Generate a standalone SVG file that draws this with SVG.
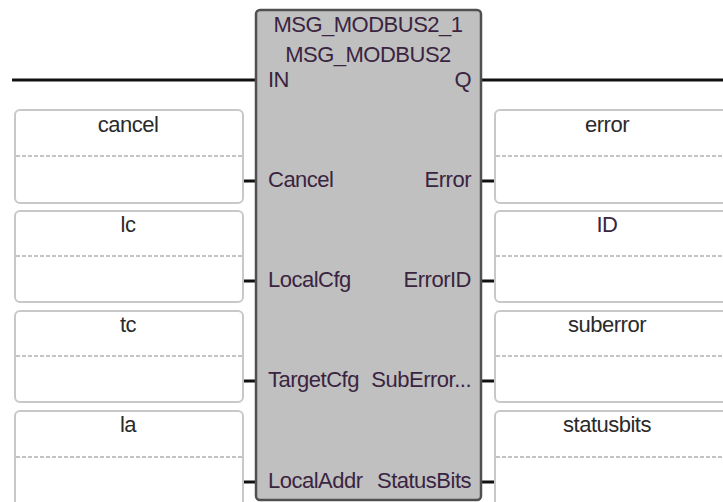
<svg xmlns="http://www.w3.org/2000/svg" width="723" height="502" viewBox="0 0 723 502">
<style>
text{font-family:"Liberation Sans",Arial,sans-serif;font-size:22px;letter-spacing:-0.5px;fill:#3a2440}
.box{fill:#fff;stroke:#c8c8c8;stroke-width:2}
.dash{stroke:#c4c4c4;stroke-width:2;stroke-dasharray:4,2}
.wire{stroke:#111;stroke-width:3;fill:none}
.pin{stroke:#111;stroke-width:3}
.c{text-anchor:middle}
.r{text-anchor:end}
.v{fill:#2a2a2a}
</style>
<rect width="723" height="502" fill="#fff"/>
<g id="connectors">
<line class="wire" x1="12" y1="80" x2="257" y2="80"/>
<line class="wire" x1="480" y1="80" x2="723" y2="80"/>
<line class="pin" x1="237" y1="181" x2="259" y2="181"/>
<line class="pin" x1="237" y1="281" x2="259" y2="281"/>
<line class="pin" x1="237" y1="381" x2="259" y2="381"/>
<line class="pin" x1="237" y1="482" x2="259" y2="482"/>
<line class="pin" x1="478" y1="181" x2="500" y2="181"/>
<line class="pin" x1="478" y1="281" x2="500" y2="281"/>
<line class="pin" x1="478" y1="381" x2="500" y2="381"/>
<line class="pin" x1="478" y1="482" x2="500" y2="482"/>
</g>
<g id="block">
<rect x="256" y="10" width="225" height="490" rx="4" fill="#c0c0c0" stroke="#505050" stroke-width="2.5"/>
<text class="c" x="368" y="32">MSG_MODBUS2_1</text>
<text class="c" x="368" y="62">MSG_MODBUS2</text>
<text x="268" y="87">IN</text>
<text class="r" x="471" y="87">Q</text>
<text x="268" y="187">Cancel</text>
<text x="268" y="287">LocalCfg</text>
<text x="268" y="387">TargetCfg</text>
<text x="268" y="488">LocalAddr</text>
<text class="r" x="471" y="187">Error</text>
<text class="r" x="471" y="287">ErrorID</text>
<text class="r" x="471" y="387">SubError...</text>
<text class="r" x="471" y="488">StatusBits</text>
</g>
<g id="in-cancel">
<rect class="box" x="15" y="110" width="228" height="93" rx="5"/>
<line class="dash" x1="16" y1="156" x2="242" y2="156"/>
<text class="c v" x="128" y="132">cancel</text>
</g>
<g id="in-lc">
<rect class="box" x="15" y="211" width="228" height="91" rx="5"/>
<line class="dash" x1="16" y1="256" x2="242" y2="256"/>
<text class="c v" x="128" y="232">lc</text>
</g>
<g id="in-tc">
<rect class="box" x="15" y="311" width="228" height="91" rx="5"/>
<line class="dash" x1="16" y1="356" x2="242" y2="356"/>
<text class="c v" x="128" y="332">tc</text>
</g>
<g id="in-la">
<rect class="box" x="15" y="411" width="228" height="100" rx="5"/>
<line class="dash" x1="16" y1="457" x2="242" y2="457"/>
<text class="c v" x="128" y="432">la</text>
</g>
<g id="out-error">
<rect class="box" x="495" y="110" width="240" height="93" rx="5"/>
<line class="dash" x1="496" y1="156" x2="723" y2="156"/>
<text class="c v" x="607" y="132">error</text>
</g>
<g id="out-id">
<rect class="box" x="495" y="211" width="240" height="91" rx="5"/>
<line class="dash" x1="496" y1="256" x2="723" y2="256"/>
<text class="c" x="607" y="232">ID</text>
</g>
<g id="out-suberror">
<rect class="box" x="495" y="311" width="240" height="91" rx="5"/>
<line class="dash" x1="496" y1="356" x2="723" y2="356"/>
<text class="c v" x="607" y="332">suberror</text>
</g>
<g id="out-statusbits">
<rect class="box" x="495" y="411" width="240" height="100" rx="5"/>
<line class="dash" x1="496" y1="457" x2="723" y2="457"/>
<text class="c v" x="607" y="432">statusbits</text>
</g>
</svg>
